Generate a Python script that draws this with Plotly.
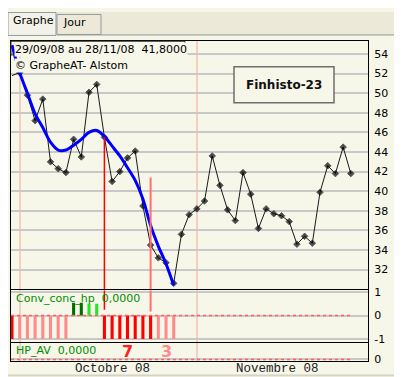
import plotly.graph_objects as go

W, H = 402, 377
CREAM = "#f6f6e9"
GRID = "#c8c8c8"
PINKGRID = "#f3cfc0"

# ---------------- data ----------------
price = [51.8, 52.1, 49.8, 47.2, 49.4, 43.0, 42.3, 41.9, 45.3, 43.5, 50.1,
         50.9, 45.5, 41.0, 42.0, 43.4, 44.1, 38.5, 34.5, 33.2, 32.7,
         30.6, 35.6, 37.6, 38.2, 39.0, 43.6, 40.6, 38.1, 37.0, 41.9,
         39.7, 36.2, 38.2, 37.7, 37.5, 36.9, 34.6, 35.4, 34.7, 39.9,
         42.6, 41.8, 44.5, 41.8]
trend = [54.9, 52.1, 50.0, 47.9, 46.5, 45.0, 44.2, 44.2, 44.7, 45.3, 46.0,
         46.2, 45.6, 44.6, 43.6, 42.4, 41.1, 39.2, 36.5, 34.4, 32.6, 30.4]
month_marks = [1, 24]
month_labels = ["Octobre 08", "Novembre 08"]
month_label_pos = [13, 34.5]
y_ticks_top = list(range(32, 55, 2))

bright_red_idx = [0, 12, 13, 14, 15, 16, 17, 18]
pink_idx = [1, 2, 3, 4, 5, 6, 7, 19, 20, 21]
dark_green_idx = [8, 9]
dark_green_val = [0.55, 0.55]
light_green_idx = [10, 11]
light_green_val = [0.5, 0.5]
signal1_idx, signal1_top = 12, 45.5
signal2_idx, signal2_top = 18, 41.4
count_bright = 7
count_pink = 3

idx = list(range(len(price)))

def px(x):
    return x / W

def py(y):
    return 1 - y / H

fig = go.Figure()

# price line
fig.add_trace(go.Scatter(
    x=idx, y=price, mode="lines+markers", xaxis="x", yaxis="y",
    line=dict(color="#1a1a1a", width=1),
    marker=dict(symbol="diamond", size=[0] + [5] * (len(price) - 1), color="#000000"),
    hoverinfo="skip"))
# smoothed trend
fig.add_trace(go.Scatter(
    x=idx[:len(trend)], y=trend, mode="lines", xaxis="x", yaxis="y",
    line=dict(color="#0000ff", width=3, shape="spline", smoothing=0.8),
    hoverinfo="skip"))

# histogram panel
bw = 0.4
fig.add_trace(go.Bar(x=pink_idx, y=[-1] * len(pink_idx), xaxis="x2", yaxis="y2",
                     marker=dict(color="#ff8c8c", line=dict(width=0)), width=bw))
fig.add_trace(go.Bar(x=bright_red_idx, y=[-1] * len(bright_red_idx), xaxis="x2", yaxis="y2",
                     marker=dict(color="#ff0000", line=dict(width=0)), width=bw))
fig.add_trace(go.Bar(x=dark_green_idx, y=dark_green_val, xaxis="x2", yaxis="y2",
                     marker=dict(color="#006f00", line=dict(width=0)), width=bw))
fig.add_trace(go.Bar(x=light_green_idx, y=light_green_val, xaxis="x2", yaxis="y2",
                     marker=dict(color="#22e822", line=dict(width=0)), width=bw))
# empty trace on third panel so it renders
fig.add_trace(go.Scatter(x=[0], y=[0], mode="markers", xaxis="x3", yaxis="y3",
                         marker=dict(size=0, opacity=0), hoverinfo="skip"))

xr = [-0.13, 46.23]
xcommon = dict(range=xr, tickvals=month_marks, showticklabels=False, showgrid=True,
               gridcolor=PINKGRID, gridwidth=2, showline=True, mirror=True,
               linecolor="#000000", linewidth=1, zeroline=False, ticks="",
               domain=[px(3), px(360)], fixedrange=True)
ycommon = dict(side="right", showline=True, mirror=True, linecolor="#000000", linewidth=1,
               zeroline=False, showgrid=True, gridcolor=GRID, gridwidth=2,
               ticks="outside", ticklen=3, tickcolor=CREAM,
               tickfont=dict(family="DejaVu Sans", size=11, color="#000000"),
               fixedrange=True)

fig.update_layout(
    width=W, height=H, margin=dict(l=0, r=0, t=0, b=0),
    paper_bgcolor=CREAM, plot_bgcolor=CREAM, showlegend=False,
    barmode="overlay",
    xaxis=dict(xcommon, anchor="y"),
    xaxis2=dict(xcommon, anchor="y2", matches="x"),
    xaxis3=dict(xcommon, anchor="y3", matches="x"),
    yaxis=dict(ycommon, anchor="x", domain=[py(284), py(30)], range=[30.0, 55.3],
               tickvals=y_ticks_top),
    yaxis2=dict(ycommon, anchor="x2", domain=[py(338), py(285)], range=[-1.125, 1.083],
                tickvals=[-1, 0, 1], ticktext=["-1", "0", "1"]),
    yaxis3=dict(ycommon, anchor="x3", domain=[py(358), py(339)], range=[-0.1, 0.85],
                tickvals=[0], ticktext=["0"]),
)

shapes = []
# signal verticals
shapes.append(dict(type="line", xref="x", yref="y", x0=signal1_idx, x1=signal1_idx,
                   y0=signal1_top, y1=30.0, line=dict(color="#ff0000", width=1.5)))
shapes.append(dict(type="line", xref="x2", yref="y2", x0=signal1_idx, x1=signal1_idx,
                   y0=1.083, y1=0.25, line=dict(color="#ff0000", width=1.5)))
shapes.append(dict(type="line", xref="x", yref="y", x0=signal2_idx, x1=signal2_idx,
                   y0=signal2_top, y1=30.0, line=dict(color="#ff7070", width=2)))
shapes.append(dict(type="line", xref="x2", yref="y2", x0=signal2_idx, x1=signal2_idx,
                   y0=1.083, y1=0.17, line=dict(color="#ff7070", width=2)))
# zero dashed lines
shapes.append(dict(type="line", xref="x2", yref="y2", x0=xr[0], x1=len(price) - 1,
                   y0=0, y1=0, line=dict(color="#ff6060", width=1.5, dash="dot")))
shapes.append(dict(type="line", xref="x3", yref="y3", x0=xr[0], x1=len(price) - 1,
                   y0=0, y1=0, line=dict(color="#ff6060", width=1.5, dash="dot")))
# title box
shapes.append(dict(type="rect", xref="paper", yref="paper", x0=px(3), x1=px(177),
                   y0=py(44), y1=py(30), line=dict(color="#333333", width=1),
                   fillcolor="rgba(0,0,0,0)", layer="above"))
# Finhisto box
shapes.append(dict(type="rect", xref="paper", yref="paper", x0=px(226), x1=px(326),
                   y0=py(93), y1=py(56), line=dict(color="#6e6e6e", width=1.5),
                   fillcolor=CREAM, layer="above"))
# window chrome: tab bar
shapes.append(dict(type="rect", xref="paper", yref="paper", x0=0, x1=1, y0=py(24), y1=1,
                   line=dict(width=0), fillcolor="#ece9d8", layer="above"))
shapes.append(dict(type="line", xref="paper", yref="paper", x0=px(49), x1=1, y0=py(23.5), y1=py(23.5),
                   line=dict(color="#919b9c", width=1), layer="above"))
shapes.append(dict(type="rect", xref="paper", yref="paper", x0=px(0), x1=px(48), y0=py(24), y1=py(0.5),
                   line=dict(color="#919b9c", width=1), fillcolor="#f3f2ea", layer="above"))
shapes.append(dict(type="rect", xref="paper", yref="paper", x0=px(49), x1=px(93), y0=py(23), y1=py(2.5),
                   line=dict(color="#919b9c", width=1), fillcolor="#ece9d8", layer="above"))
# bottom scrollbar
shapes.append(dict(type="rect", xref="paper", yref="paper", x0=0, x1=1, y0=0, y1=py(372),
                   line=dict(width=0), fillcolor="#ece9d8", layer="above"))
shapes.append(dict(type="line", xref="paper", yref="paper", x0=0, x1=1, y0=py(372), y1=py(372),
                   line=dict(color="#c8c6bb", width=1), layer="above"))
fig.update_layout(shapes=shapes)

ann = []
F = "DejaVu Sans"
ann.append(dict(xref="paper", yref="paper", x=px(6), y=py(38), xanchor="left", yanchor="middle",
                text="29/09/08 au 28/11/08  41,8000", showarrow=False, bgcolor=CREAM,
                borderpad=0, font=dict(family=F, size=11, color="#000000")))
ann.append(dict(xref="paper", yref="paper", x=px(6), y=py(55), xanchor="left", yanchor="middle",
                text="© GrapheAT- Alstom", showarrow=False, bgcolor=CREAM,
                borderpad=0, font=dict(family=F, size=11, color="#000000")))
ann.append(dict(xref="paper", yref="paper", x=px(276), y=py(74.5), xanchor="center", yanchor="middle",
                text="<b>Finhisto-23</b>", showarrow=False,
                font=dict(family=F, size=12, color="#111111")))
ann.append(dict(xref="paper", yref="paper", x=px(6), y=py(293), xanchor="left", yanchor="middle",
                text="Conv_conc_hp  0,0000", showarrow=False,
                font=dict(family=F, size=11, color="#008c00")))
ann.append(dict(xref="paper", yref="paper", x=px(6), y=py(347), xanchor="left", yanchor="middle",
                text="HP_AV  0,0000", showarrow=False,
                font=dict(family=F, size=11, color="#008c00")))
ann.append(dict(xref="x", yref="paper", x=sum(bright_red_idx[1:]) / len(bright_red_idx[1:]), y=py(348),
                xanchor="center", yanchor="middle", text="<b>%d</b>" % count_bright, showarrow=False,
                font=dict(family=F, size=16, color="#ff2020")))
ann.append(dict(xref="x", yref="paper", x=sum(pink_idx[-3:]) / 3, y=py(348),
                xanchor="center", yanchor="middle", text="<b>%d</b>" % count_pink, showarrow=False,
                font=dict(family=F, size=16, color="#ff8c8c")))
for lab, pos in zip(month_labels, month_label_pos):
    ann.append(dict(xref="x", yref="paper", x=pos, y=py(365.5), xanchor="center", yanchor="middle",
                    text=lab, showarrow=False,
                    font=dict(family="Liberation Mono", size=12.5, color="#222222")))
ann.append(dict(xref="paper", yref="paper", x=px(3), y=py(9), xanchor="left", yanchor="middle",
                text="Graphe", showarrow=False, font=dict(family=F, size=11, color="#000000")))
ann.append(dict(xref="paper", yref="paper", x=px(53), y=py(11), xanchor="left", yanchor="middle",
                text="Jour", showarrow=False, font=dict(family=F, size=11, color="#000000")))
fig.update_layout(annotations=ann)

fig.write_html("out.html")
